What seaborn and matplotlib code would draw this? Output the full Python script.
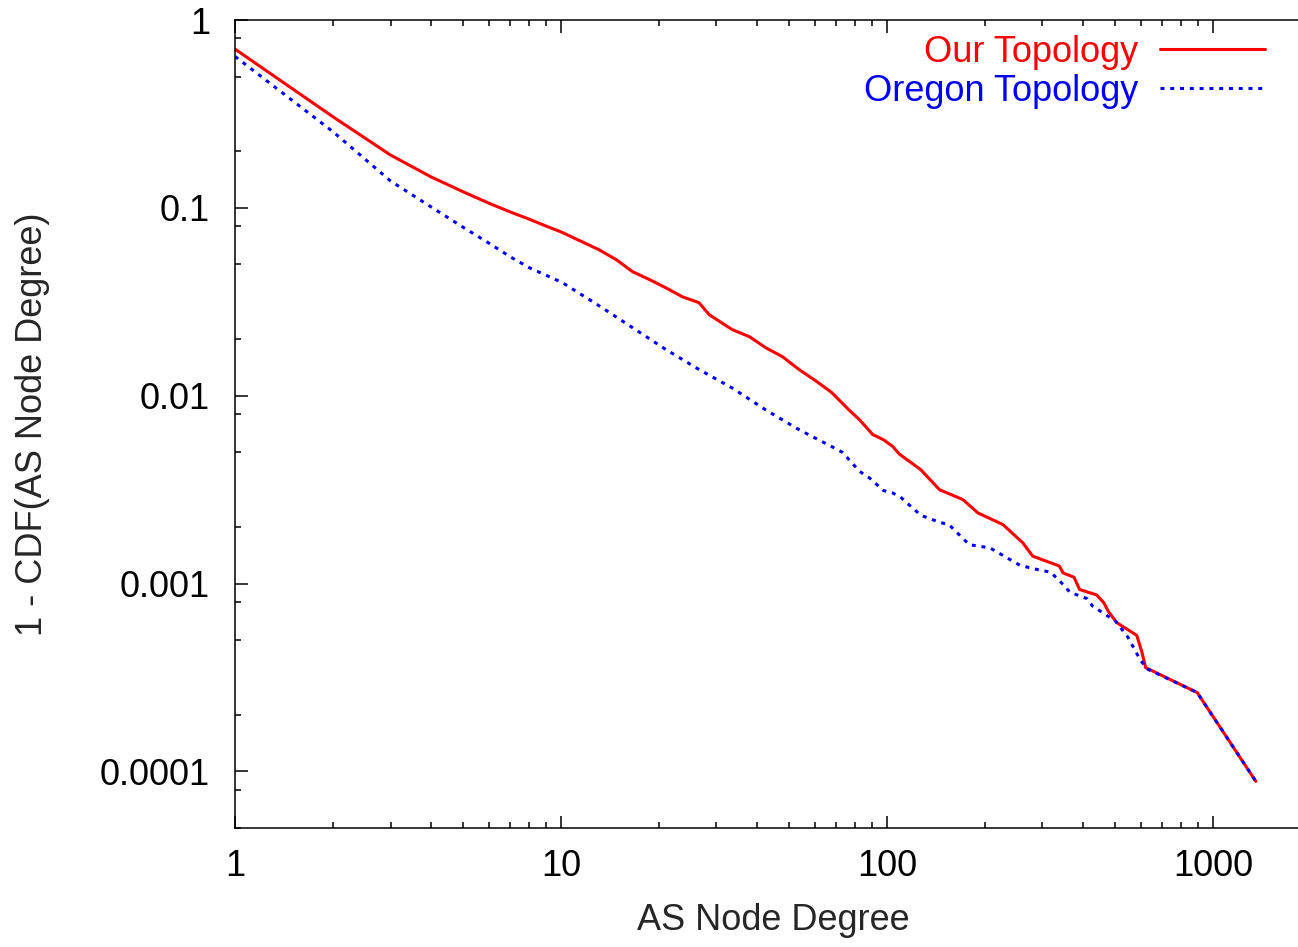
import pandas as pd
import matplotlib
matplotlib.use('Agg')
import matplotlib.pyplot as plt
import matplotlib.ticker as mticker
import seaborn as sns

# curves
our_deg = [1, 2, 3, 4, 5, 6, 7, 8, 9, 10, 13.1, 14.8, 16.6, 18.7, 21, 23.6, 26.5, 28.5,
           33.5, 37.9, 42.5, 47.9, 53.7, 60.9, 67.7, 76.5, 82.4, 90.5, 97.6, 104.2, 109,
           127, 145, 171, 190, 227, 261, 280, 338, 347, 375, 390, 440, 463, 478, 507,
           584, 605, 622, 895, 1355]
our_ccdf = [0.70, 0.305, 0.191, 0.146, 0.122, 0.106, 0.095, 0.087, 0.080, 0.0745, 0.0598,
            0.0529, 0.0457, 0.0415, 0.0375, 0.0336, 0.0313, 0.027, 0.0225, 0.0206, 0.018,
            0.0161, 0.0138, 0.0119, 0.0104, 0.0084, 0.00745, 0.00621, 0.00583, 0.00537,
            0.0049, 0.00404, 0.00316, 0.0028, 0.00238, 0.00206, 0.00165, 0.0014, 0.00124,
            0.00114, 0.00108, 0.00093, 0.00087, 0.00079, 0.00071, 0.00062, 0.00053,
            0.000435, 0.000357, 0.000263, 0.0000885]

oregon_deg = [1, 2, 3, 4, 5, 6, 7, 8, 10.1, 13.1, 16.6, 21, 26.5, 33.5, 42.5, 53.7, 67.7,
              73, 82.4, 88.6, 97.5, 104, 110, 127, 145, 155, 179, 207, 229, 256, 294, 318,
              347, 364, 412, 427, 477, 503, 548, 600, 631, 895, 1355]
oregon_ccdf = [0.64, 0.254, 0.139, 0.101, 0.079, 0.065, 0.0548, 0.048, 0.040, 0.0301,
               0.023, 0.0176, 0.0138, 0.011, 0.0084, 0.0066, 0.00536, 0.0050, 0.00396,
               0.00364, 0.00313, 0.00304, 0.00289, 0.00231, 0.00212, 0.00206, 0.00161,
               0.00155, 0.0014, 0.00125, 0.00118, 0.00115, 0.00099, 0.00090, 0.00083,
               0.00076, 0.00067, 0.00063, 0.00052, 0.00039, 0.00035, 0.000263, 0.0000885]

xticks = [1, 10, 100, 1000]
xtick_labels = ['1', '10', '100', '1000']
yticks = [1, 0.1, 0.01, 0.001, 0.0001]
ytick_labels = ['1', '0.1', '0.01', '0.001', '0.0001']

sns.set_style('ticks')
plt.rcParams['font.family'] = ['Liberation Sans', 'DejaVu Sans']

our = pd.DataFrame({'deg': our_deg, 'ccdf': our_ccdf})
oregon = pd.DataFrame({'deg': oregon_deg, 'ccdf': oregon_ccdf})

fs = 26
W, H = 1298, 947
fig = plt.figure(figsize=(W / 100, H / 100), dpi=100)
# axes run past the right edge, like the original crop
ax = fig.add_axes([235 / W, (H - 828) / H, (1311 - 235) / W, 808 / H])

sns.lineplot(data=our, x='deg', y='ccdf', ax=ax, color='#ff0000', linewidth=2.2,
             label='Our Topology', sort=False, estimator=None)
sns.lineplot(data=oregon, x='deg', y='ccdf', ax=ax, color='#0000ff', linewidth=2.2,
             label='Oregon Topology', sort=False, estimator=None)
ax.lines[1].set_dashes([1.3, 1.9])

ax.set_xscale('log')
ax.set_yscale('log')
ax.set_xlim(1, 2000)
ax.set_ylim(5e-5, 1)

ax.set_xticks(xticks, xtick_labels)
ax.set_yticks(yticks, ytick_labels)
ax.xaxis.set_minor_locator(mticker.LogLocator(base=10, subs=range(2, 10)))
ax.yaxis.set_minor_locator(mticker.LogLocator(base=10, subs=[2, 5, 8]))
ax.xaxis.set_minor_formatter(mticker.NullFormatter())
ax.yaxis.set_minor_formatter(mticker.NullFormatter())

ax.tick_params(which='both', direction='in', top=True, right=False, width=1.1, colors='black')
ax.tick_params(which='major', length=9, labelsize=fs)
ax.tick_params(which='minor', length=4.5)
ax.tick_params(axis='x', which='major', pad=15)
ax.tick_params(axis='y', which='major', pad=18)

for side in ['left', 'bottom', 'top']:
    ax.spines[side].set_linewidth(1.1)
    ax.spines[side].set_color('black')
ax.spines['right'].set_visible(False)

ax.set_xlabel('AS Node Degree', fontsize=fs)
ax.set_ylabel('1 - CDF(AS Node Degree)', fontsize=fs)
ax.xaxis.set_label_coords(0.5, -0.093)
ax.yaxis.set_label_coords(-0.172, 0.5)

leg = ax.legend(loc='upper right', bbox_to_anchor=(1265 / W, (H - 35) / H),
                bbox_transform=fig.transFigure, frameon=False, fontsize=fs,
                markerfirst=False, labelcolor='linecolor', handlelength=2.9,
                handletextpad=0.6, labelspacing=0.1, borderpad=0, borderaxespad=0)

fig.savefig('out.png', dpi=100)
